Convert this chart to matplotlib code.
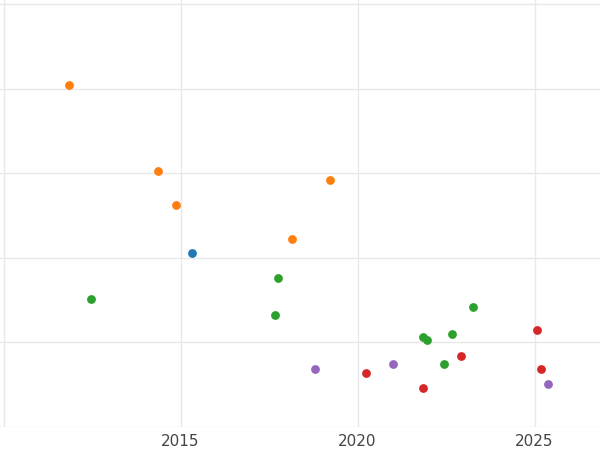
import matplotlib
matplotlib.use("Agg")
import matplotlib.pyplot as plt

orange_x = [2011.86, 2014.35, 2014.86, 2019.21, 2018.14]
orange_y = [4.04, 3.03, 2.62, 2.92, 2.22]
blue_x = [2015.31]
blue_y = [2.06]
green_x = [2012.46, 2017.74, 2017.66, 2021.84, 2021.95, 2022.43, 2022.66, 2023.25]
green_y = [1.52, 1.76, 1.32, 1.06, 1.03, 0.74, 1.10, 1.42]
red_x = [2020.25, 2021.84, 2022.92, 2025.06, 2025.17]
red_y = [0.64, 0.46, 0.84, 1.15, 0.69]
purple_x = [2018.79, 2020.99, 2025.37]
purple_y = [0.69, 0.74, 0.51]
xticks = [2015, 2020, 2025]

fig = plt.figure(figsize=(6, 4.5), dpi=100)
ax = fig.add_axes([0, 0.051, 1, 0.949])
for xs, ys, c in [(blue_x, blue_y, "#1f77b4"), (orange_x, orange_y, "#ff7f0e"),
                  (green_x, green_y, "#2ca02c"), (red_x, red_y, "#d62728"),
                  (purple_x, purple_y, "#9467bd")]:
    ax.scatter(xs, ys, s=40, color=c, zorder=3, linewidths=0)
ax.set_xlim(2009.9, 2026.85)
ax.set_ylim(0, 5.05)
ax.set_xticks([2010] + xticks)
ax.set_xticklabels([""] + [str(t) for t in xticks])
ax.set_yticks([0, 1, 2, 3, 4, 5])
ax.set_yticklabels([])
ax.grid(True, color="#e8e8e8", linewidth=1)
ax.tick_params(length=0, labelsize=11, labelcolor="#444444", pad=5)
for s in ax.spines.values():
    s.set_visible(False)
fig.savefig("out.png")
